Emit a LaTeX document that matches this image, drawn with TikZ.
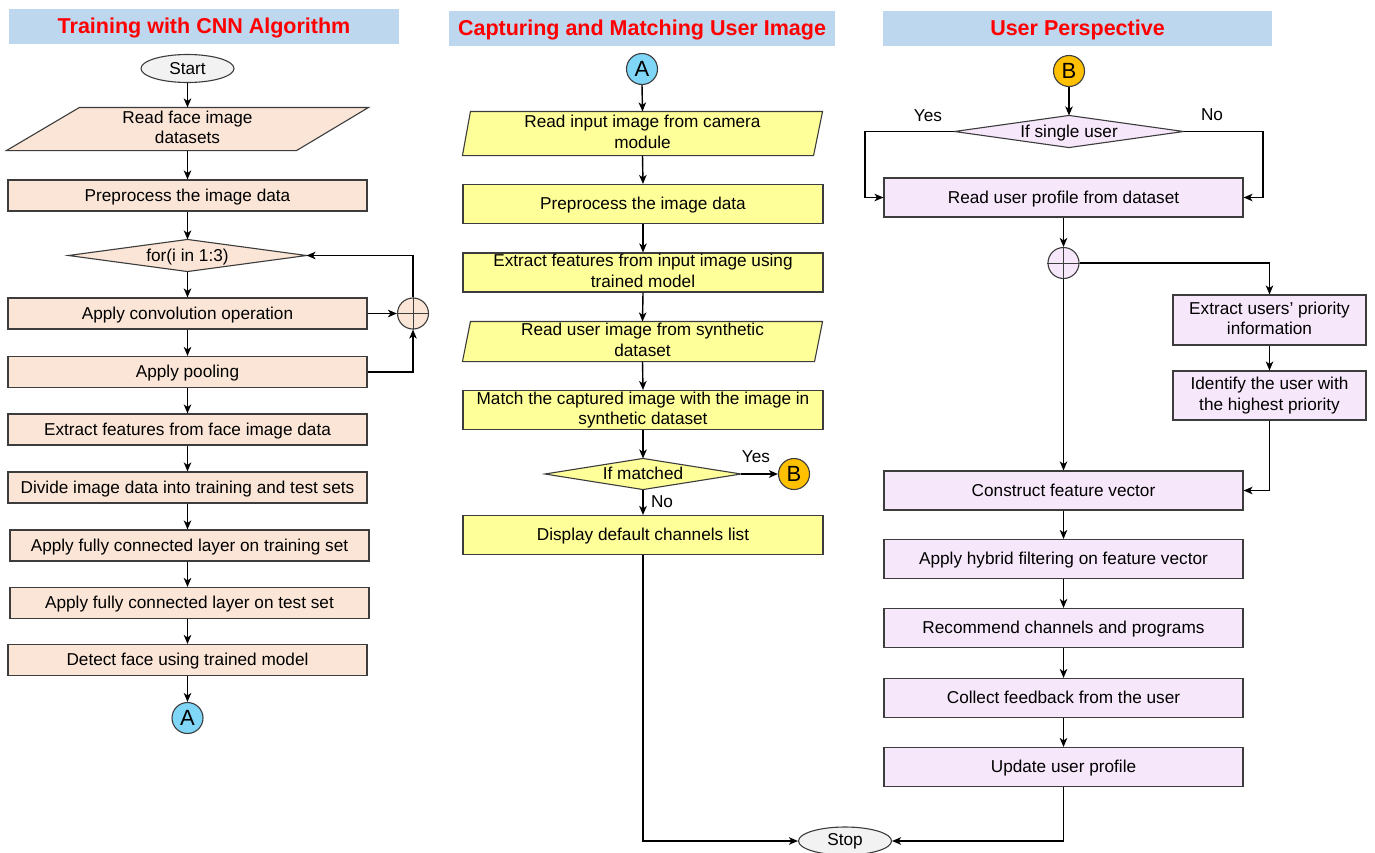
\documentclass[tikz,border=0pt]{standalone}
\usepackage{fontspec}
\setmainfont{Liberation Sans}
\usetikzlibrary{arrows.meta,shapes.geometric,calc}
\definecolor{peach}{RGB}{251,229,214}
\definecolor{yel}{RGB}{255,255,153}
\definecolor{lav}{RGB}{246,231,250}
\definecolor{titleblue}{RGB}{189,215,238}
\definecolor{cblue}{RGB}{128,214,247}
\definecolor{corange}{RGB}{255,192,0}
\definecolor{termgray}{RGB}{242,242,242}
\definecolor{linec}{RGB}{60,60,60}
\pgfdeclarelayer{background}
\pgfdeclarelayer{paper}
\pgfsetlayers{paper,background,main}
\newcommand\bodyfont{\fontsize{17.2}{20.6}\selectfont}
\newcommand\titlefont{\fontsize{21.5}{24}\selectfont\bfseries}
\newcommand\letterfont{\fontsize{22}{22}\selectfont}
\newcommand\linestrut{\rule[-0.212em]{0pt}{1.117em}}
\begin{document}
\begin{tikzpicture}[x=1pt,y=-1pt,
  base/.style={draw=linec, line width=1.1pt, font=\bodyfont, align=center, inner sep=0pt, text=black},
  struts/.style={execute at begin node=\linestrut, execute at end node=\linestrut},
  lbox/.style={base, struts, fill=peach, minimum width=359pt, minimum height=31pt},
  mbox/.style={base, struts, fill=yel, minimum width=360pt, minimum height=39pt},
  rbox/.style={base, struts, fill=lav, minimum width=359pt, minimum height=39pt},
  sbox/.style={base, struts, fill=lav, minimum width=193pt},
  ghost/.style={base, struts, draw=none, fill=none},
  shapeline/.style={draw=linec, line width=1.1pt},
  titlebar/.style={struts, fill=titleblue, minimum height=35pt, font=\titlefont, text=red, inner sep=0pt},
  term/.style={base, ellipse, fill=termgray, minimum width=93pt, minimum height=28pt},
  conn/.style={base, circle, minimum size=31pt, font=\letterfont},
  plusc/.style={base, circle, minimum size=31pt},
  arr/.style={-{Stealth[length=9pt,width=7.5pt,inset=2.5pt]}, line width=1.4pt, draw=black},
  lab/.style={font=\bodyfont, inner sep=0pt}
]
\useasboundingbox (0,0) rectangle (1375,852);
\begin{pgfonlayer}{paper}
\fill[white] (0,0) rectangle (1375,852);
\end{pgfonlayer}

% titles
\node[titlebar, minimum width=390pt] (t1) at (204,26.5) {Training with CNN Algorithm};
\node[titlebar, minimum width=386pt] (t2) at (642,28) {Capturing and Matching User Image};
\node[titlebar, minimum width=389pt] (t3) at (1077.5,28) {User Perspective};

% ---------- left column ----------
\node[term] (start) at (187.5,68.5) {Start};
\node[ghost, minimum width=361pt, minimum height=42pt] (p1) at (187.5,129) {Read face image\\datasets};
\node[lbox] (prep) at (187.5,195.5) {Preprocess the image data};
\node[ghost, minimum width=237pt, minimum height=31pt] (d1) at (187.5,255.5) {for(i in 1:3)};
\node[lbox] (conv) at (187.5,313.5) {Apply convolution operation};
\node[plusc, fill=peach] (plus1) at (413,313.5) {};
\node[lbox] (pool) at (187.5,372) {Apply pooling};
\node[lbox] (feat) at (187.5,429.5) {Extract features from face image data};
\node[lbox] (div) at (187.5,487.5) {Divide image data into training and test sets};
\node[lbox] (fc1) at (189.5,545.5) {Apply fully connected layer on training set};
\node[lbox] (fc2) at (189.5,603) {Apply fully connected layer on test set};
\node[lbox] (det) at (187.5,660) {Detect face using trained model};
\node[conn, fill=cblue] (A1) at (187.5,718) {A};

% ---------- middle column ----------
\node[conn, fill=cblue] (A2) at (642,69) {A};
\node[ghost, minimum width=359pt, minimum height=43pt] (p2) at (642.5,133.5) {Read input image from camera\\module};
\node[mbox] (prep2) at (643,204) {Preprocess the image data};
\node[mbox] (ext2) at (643,272.5) {Extract features from input image using\\trained model};
\node[ghost, minimum width=359pt, minimum height=39pt] (p3) at (642.5,341.5) {Read user image from synthetic\\dataset};
\node[mbox] (match) at (643,410) {Match the captured image with the image in\\synthetic dataset};
\node[ghost, minimum width=195pt, minimum height=30pt] (d2) at (643,474) {If matched};
\node[conn, fill=corange] (B2) at (794,474) {B};
\node[mbox] (disp) at (643,535) {Display default channels list};

% ---------- right column ----------
\node[conn, fill=corange] (B3) at (1069,71) {B};
\node[ghost, minimum width=228pt, minimum height=31pt] (d3) at (1069,131.5) {If single user};
\node[rbox] (rp) at (1063.5,197.5) {Read user profile from dataset};
\node[plusc, fill=lav] (merge) at (1063.5,263) {};
\node[sbox, minimum height=50pt] (ex3) at (1269.5,320) {Extract users’ priority\\information};
\node[sbox, minimum height=49pt] (id3) at (1269.5,395.5) {Identify the user with\\the highest priority};
\node[rbox] (cons) at (1063.5,490.5) {Construct feature vector};
\node[rbox] (hyb) at (1063.5,559) {Apply hybrid filtering on feature vector};
\node[rbox] (rec) at (1063.5,628) {Recommend channels and programs};
\node[rbox] (col) at (1063.5,698) {Collect feedback from the user};
\node[rbox] (upd) at (1063.5,767) {Update user profile};

\node[term] (stop) at (845,841) {Stop};

% background shapes (parallelograms, diamonds)
\begin{pgfonlayer}{background}
\filldraw[shapeline, fill=peach] ($(p1.north west)+(73,0)$) -- (p1.north east) -- ($(p1.south east)-(72,0)$) -- (p1.south west) -- cycle;
\filldraw[shapeline, fill=peach] (d1.north) -- (d1.east) -- (d1.south) -- (d1.west) -- cycle;
\filldraw[shapeline, fill=yel] ($(p2.north west)+(8,0)$) -- (p2.north east) -- ($(p2.south east)-(9,0)$) -- (p2.south west) -- cycle;
\filldraw[shapeline, fill=yel] ($(p3.north west)+(8,0)$) -- (p3.north east) -- ($(p3.south east)-(8,0)$) -- (p3.south west) -- cycle;
\filldraw[shapeline, fill=yel] (d2.north) -- (d2.east) -- (d2.south) -- (d2.west) -- cycle;
\filldraw[shapeline, fill=lav] (d3.north) -- (d3.east) -- (d3.south) -- (d3.west) -- cycle;
\end{pgfonlayer}

% plus signs in summing circles
\draw[linec, line width=0.8pt] (plus1.north) -- (plus1.south) (plus1.west) -- (plus1.east);
\draw[linec, line width=0.8pt] (merge.north) -- (merge.south) (merge.west) -- (merge.east);

% helper coordinates
\coordinate (yl) at (865,0);
\coordinate (nr) at (1263,0);

% ---------- left connectors ----------
\draw[arr] (start.south) -- (p1.north);
\draw[arr] (p1.south) -- (prep.north);
\draw[arr] (prep.south) -- (d1.north);
\draw[arr] (d1.south) -- (conv.north);
\draw[arr] (conv.east) -- (plus1.west);
\draw[arr] (pool.east) -| (plus1.south);
\draw[arr] (plus1.north) |- (d1.east);
\draw[arr] (conv.south) -- (pool.north);
\draw[arr] (pool.south) -- (feat.north);
\draw[arr] (feat.south) -- (div.north);
\draw[arr] (div.south) -- (div.south |- fc1.north);
\draw[arr] (div.south |- fc1.south) -- (div.south |- fc2.north);
\draw[arr] (div.south |- fc2.south) -- (det.north);
\draw[arr] (det.south) -- (A1.north);

% ---------- middle connectors ----------
\draw[arr] (A2.south) -- (p2.north);
\draw[arr] (p2.south) -- (prep2.north);
\draw[arr] (prep2.south) -- (ext2.north);
\draw[arr] (ext2.south) -- (p3.north);
\draw[arr] (p3.south) -- (match.north);
\draw[arr] (match.south) -- (d2.north);
\draw[arr] (d2.east) -- (B2.west);
\draw[arr] (d2.south) -- (disp.north);
\node[lab] (yes2) at (756,457) {Yes};
\node[lab] (no2) at (662,502) {No};
\draw[arr] (disp.south) |- (stop.west);

% ---------- right connectors ----------
\draw[arr] (B3.south) -- (d3.north);
\draw[arr] (d3.west) -- (d3.west -| yl) |- (rp.west);
\draw[arr] (d3.east) -- (d3.east -| nr) |- (rp.east);
\node[lab] (yes3) at (928,116) {Yes};
\node[lab] (no3) at (1212,115) {No};
\draw[arr] (rp.south) -- (merge.north);
\draw[arr] (merge.east) -| (ex3.north);
\draw[arr] (ex3.south) -- (id3.north);
\draw[arr] (id3.south) |- (cons.east);
\draw[arr] (merge.south) -- (cons.north);
\draw[arr] (cons.south) -- (hyb.north);
\draw[arr] (hyb.south) -- (rec.north);
\draw[arr] (rec.south) -- (col.north);
\draw[arr] (col.south) -- (upd.north);
\draw[arr] (upd.south) |- (stop.east);
\end{tikzpicture}
\end{document}
